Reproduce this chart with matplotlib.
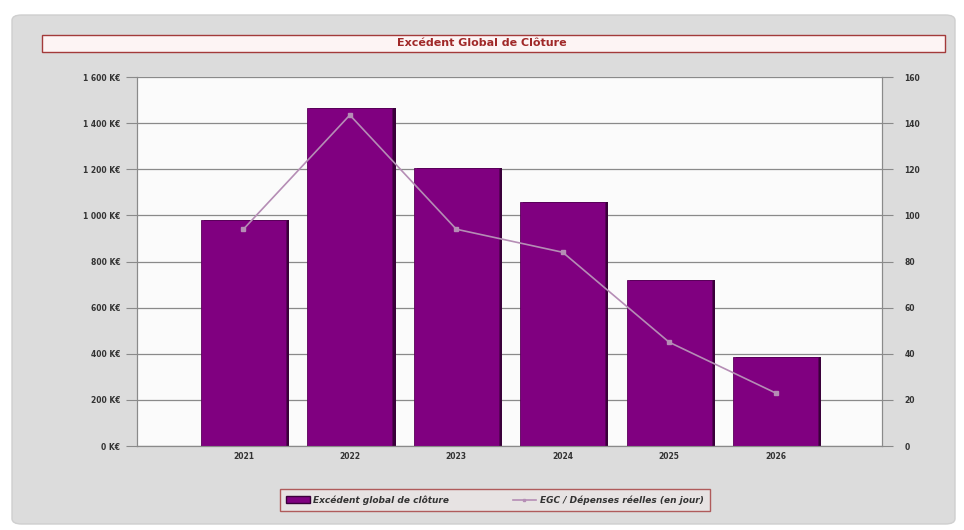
import matplotlib.pyplot as plt
from matplotlib.patches import FancyBboxPatch, Rectangle
from matplotlib.lines import Line2D
from matplotlib.ticker import FuncFormatter

years = ['2021', '2022', '2023', '2024', '2025', '2026']
excedent = [980, 1466, 1205, 1058, 720, 386]       # K€
egc_jours = [94, 143.5, 94, 84, 45, 23]             # jours

bar_color = '#800080'
line_color = '#b58db5'
axis_gray = '#8a8a8a'

fig = plt.figure(figsize=(9.64, 5.30), dpi=100)
fig.patch.set_facecolor('white')

# gray panel (behind the axes)
fig.patches.append(FancyBboxPatch((12 / 964, 6 / 530), 943 / 964, 509 / 530,
                                  boxstyle='round,pad=0,rounding_size=0.01',
                                  transform=fig.transFigure, facecolor='#dcdcdc',
                                  edgecolor='#cfcfcf', lw=1, zorder=-2))

# title box
fig.patches.append(Rectangle((42 / 964, 1 - 52 / 530), 903 / 964, 17 / 530,
                             transform=fig.transFigure, facecolor='#fdf4f4',
                             edgecolor='#a33a3a', lw=1, zorder=1))
fig.text(0.5, 1 - 43.5 / 530, 'Excédent Global de Clôture', ha='center', va='center',
         fontsize=8, fontweight='bold', color='#a02828')

ax = fig.add_axes([137 / 964, 1 - 446 / 530, 745 / 964, 369 / 530])
ax.set_facecolor('#fbfbfb')
x = list(range(len(years)))

# shadow then bars
ax.bar([i + 0.03 for i in x], excedent, width=0.8, color='#3a003a', zorder=2)
ax.bar(x, excedent, width=0.8, color=bar_color, edgecolor='#5a005a', lw=0.6, zorder=3)

ax.set_xlim(-1, 6)
ax.set_ylim(0, 1600)
ax.set_yticks(range(0, 1601, 200))
ax.yaxis.set_major_formatter(FuncFormatter(lambda v, p: '{:,.0f} K€'.format(v).replace(',', ' ')))
ax.set_xticks(x)
ax.set_xticklabels(years)
ax.grid(axis='y', color=axis_gray, lw=0.9, zorder=1)
ax.set_axisbelow(True)
ax.spines['top'].set_visible(False)
for s in ['left', 'right', 'bottom']:
    ax.spines[s].set_color(axis_gray)
ax.tick_params(axis='y', length=8, color=axis_gray, labelsize=5.5, pad=4, labelcolor='#333333')
ax.tick_params(axis='x', length=0, labelsize=5.5, pad=4, labelcolor='#333333')
for lab in ax.get_yticklabels() + ax.get_xticklabels():
    lab.set_fontweight('bold')

ax2 = ax.twinx()
ax2.plot(x, egc_jours, color=line_color, lw=1.2, marker='s', ms=3, zorder=5)
ax2.set_ylim(0, 160)
ax2.set_yticks(range(0, 161, 20))
ax2.spines['top'].set_visible(False)
for s in ['left', 'right', 'bottom']:
    ax2.spines[s].set_color(axis_gray)
ax2.tick_params(axis='y', length=8, color=axis_gray, labelsize=5.5, pad=8, labelcolor='#333333')
for lab in ax2.get_yticklabels():
    lab.set_fontweight('bold')

handles = [Rectangle((0, 0), 1, 1, facecolor=bar_color, edgecolor='#3a003a'),
           Line2D([], [], color=line_color, lw=1.2, marker='s', ms=2)]
leg = fig.legend(handles, ['Excédent global de clôture', 'EGC / Dépenses réelles (en jour)'],
                 loc='center', bbox_to_anchor=(495 / 964, 1 - 500 / 530), ncol=2,
                 fontsize=6.5, frameon=True, fancybox=False, columnspacing=7,
                 handlelength=2.6, handletextpad=0.4, borderpad=0.7)
leg.get_frame().set_edgecolor('#a33a3a')
leg.get_frame().set_facecolor('#ebe6e6')
leg.get_frame().set_linewidth(1)
for t in leg.get_texts():
    t.set_fontstyle('italic')
    t.set_fontweight('bold')
    t.set_color('#333333')

fig.savefig('out.png', dpi=100)
